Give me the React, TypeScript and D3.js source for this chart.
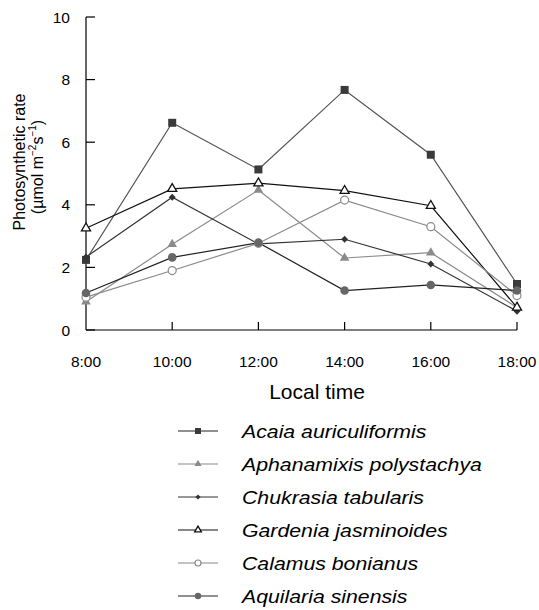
import React from "react";
import * as d3 from "d3";

const times = [8, 10, 12, 14, 16, 18];
const timeLabels = ["8:00", "10:00", "12:00", "14:00", "16:00", "18:00"];
const yTicks = [0, 2, 4, 6, 8, 10];

const seriesNames = [
  "Acaia auriculiformis",
  "Aphanamixis polystachya",
  "Chukrasia tabularis",
  "Gardenia jasminoides",
  "Calamus bonianus",
  "Aquilaria sinensis",
];
const acaia = [2.24, 6.62, 5.13, 7.67, 5.6, 1.47];
const aphanamixis = [0.9, 2.74, 4.47, 2.3, 2.47, 0.72];
const chukrasia = [2.33, 4.24, 2.75, 2.9, 2.11, 0.6];
const gardenia = [3.25, 4.51, 4.69, 4.45, 3.97, 0.72];
const calamus = [1.05, 1.9, 2.77, 4.15, 3.3, 1.1];
const aquilaria = [1.18, 2.32, 2.79, 1.26, 1.44, 1.26];

const seriesValues = [acaia, aphanamixis, chukrasia, gardenia, calamus, aquilaria];
const markerTypes = ["square", "triangleFilled", "diamond", "triangleOpen", "circleOpen", "circleFilled"];
const lineColors = ["#555", "#8a8a8a", "#333", "#111", "#8a8a8a", "#222"];
const legendLineColors = ["#222", "#8a8a8a", "#333", "#111", "#8a8a8a", "#222"];
const markerColors = ["#3a3a3a", "#8a8a8a", "#333", "#111", "#8a8a8a", "#666"];

const FONT = "'Liberation Sans', Arial, sans-serif";

function Marker({ type, x, y, color, s = 1 }: { type: string; x: number; y: number; color: string; s?: number }) {
  const tr = `translate(${x},${y}) scale(${s})`;
  if (type === "square") {
    return <path d={d3.symbol(d3.symbolSquare, 64)()!} transform={tr} fill={color} />;
  }
  if (type === "triangleFilled") {
    return <path d={d3.symbol(d3.symbolTriangle, 40)()!} transform={tr} fill={color} />;
  }
  if (type === "triangleOpen") {
    return (
      <path
        d={d3.symbol(d3.symbolTriangle, 36)()!}
        transform={tr}
        fill="#fff"
        stroke={color}
        strokeWidth={1.3 / s}
      />
    );
  }
  if (type === "diamond") {
    return <path d={d3.symbol(d3.symbolSquare, 24)()!} transform={`${tr} rotate(45)`} fill={color} />;
  }
  if (type === "circleOpen") {
    return <circle cx={x} cy={y} r={4 * s} fill="#fff" stroke={color} strokeWidth={1.2} />;
  }
  return <circle cx={x} cy={y} r={4.3 * s} fill={color} />;
}

export default function App() {
  const width = 539;
  const height = 610;
  const x = d3.scaleLinear().domain([8, 18]).range([86, 517]);
  const y = d3.scaleLinear().domain([0, 10]).range([330, 17]);
  const line = d3
    .line<number>()
    .x((_, i) => x(times[i]))
    .y((d) => y(d));

  const legendY = d3.scaleLinear().domain([0, 5]).range([431, 596]);

  return (
    <svg
      width={width}
      height={height}
      style={{ position: "absolute", left: 0, top: 0, background: "#fff" }}
      fontFamily={FONT}
    >
      <rect x={0} y={0} width={width} height={height} fill="#fff" />
      {/* axes */}
      <line x1={x(8)} x2={x(8)} y1={y(10)} y2={y(0)} stroke="#000" strokeWidth={1.2} />
      <line x1={x(8)} x2={x(18)} y1={y(0)} y2={y(0)} stroke="#000" strokeWidth={1.2} />
      {yTicks.map((t) => (
        <g key={"yt" + t}>
          <line x1={x(8)} x2={x(8) + 9} y1={y(t)} y2={y(t)} stroke="#000" strokeWidth={1.2} />
          <text x={70} y={y(t)} dy="0.36em" textAnchor="end" fontSize={15.5} fill="#000">
            {t}
          </text>
        </g>
      ))}
      {times.map((t, i) => (
        <g key={"xt" + t}>
          {i > 0 && <line x1={x(t)} x2={x(t)} y1={y(0)} y2={y(0) - 8} stroke="#000" strokeWidth={1.2} />}
          <text x={x(t)} y={361} dy="0.36em" textAnchor="middle" fontSize={15.5} fill="#000">
            {timeLabels[i]}
          </text>
        </g>
      ))}
      <text x={317} y={399} textAnchor="middle" fontSize={21} fill="#000">
        Local time
      </text>
      <text transform="translate(25,162) rotate(-90)" textAnchor="middle" fontSize={16} fill="#000">
        Photosynthetic rate
      </text>
      <text transform="translate(43,167) rotate(-90)" textAnchor="middle" fontSize={16} fill="#000">
        (µmol m
        <tspan fontSize={10} dy={-7}>−2</tspan>
        <tspan dy={7}>s</tspan>
        <tspan fontSize={10} dy={-7}>−1</tspan>
        <tspan dy={7}>)</tspan>
      </text>

      {/* lines */}
      {seriesValues.map((vals, si) => (
        <path key={"l" + si} d={line(vals)!} fill="none" stroke={lineColors[si]} strokeWidth={1.2} />
      ))}
      {seriesValues.map((vals, si) =>
        vals.map((v, i) => (
          <Marker key={`m${si}-${i}`} type={markerTypes[si]} x={x(times[i])} y={y(v)} color={markerColors[si]} />
        ))
      )}

      {/* legend */}
      {seriesNames.map((name, si) => {
        const ly = legendY(si);
        return (
          <g key={"lg" + si}>
            <line x1={178} x2={218} y1={ly} y2={ly} stroke={legendLineColors[si]} strokeWidth={1.2} />
            <Marker type={markerTypes[si]} x={198} y={ly} color={markerColors[si]} s={0.75} />
            <text
              transform={`translate(242,${ly + 6.5}) scale(1.15,1)`}
              fontSize={18.5}
              fontStyle="italic"
              fill="#000"
            >
              {name}
            </text>
          </g>
        );
      })}
    </svg>
  );
}
